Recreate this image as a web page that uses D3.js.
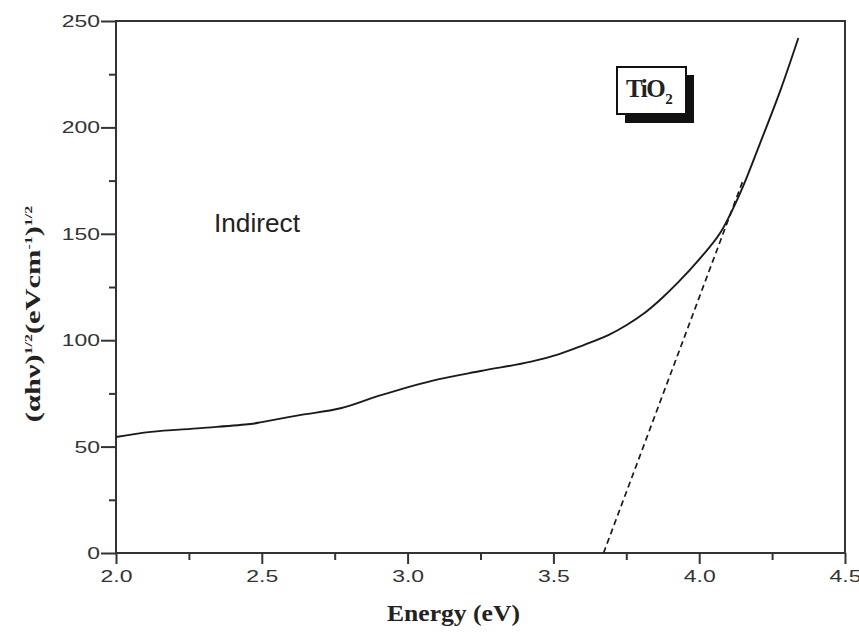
<!DOCTYPE html>
<html>
<head>
<meta charset="utf-8">
<script src="https://cdn.jsdelivr.net/npm/d3@7"></script>
<style>
  body { margin: 0; background: #fff; }
  svg text { fill: #222; }
</style>
</head>
<body>
<script>
// measured curve, energy (eV) vs (ahv)^1/2
var energy = [2.0, 2.12, 2.29, 2.46, 2.5, 2.63, 2.77, 2.9, 3.08, 3.25, 3.42, 3.52, 3.6, 3.69, 3.75, 3.81, 3.87, 3.93, 4.0, 4.07, 4.14, 4.21, 4.28, 4.34];
var signal = [54.5, 56.9, 58.7, 60.6, 61.5, 64.8, 68, 73.8, 80.8, 85.5, 89.8, 93.5, 97.5, 102.5, 107, 112.5, 119.5, 127.5, 138, 150, 169, 193, 218, 242];
// linear fit extrapolated to the axis
var fitEnergy = [3.672, 4.15];
var fitSignal = [0, 175];
var xTicks = [2.0, 2.5, 3.0, 3.5, 4.0, 4.5];
var yTicks = [0, 50, 100, 150, 200, 250];

var width = 859, height = 635;
var mLeft = 116, mRight = 845, mTop = 21, mBottom = 553;

var svg = d3.select("body").append("svg")
    .attr("width", width)
    .attr("height", height);

var x = d3.scaleLinear().domain([2.0, 4.5]).range([mLeft, mRight]);
var y = d3.scaleLinear().domain([0, 250]).range([mBottom, mTop]);

// frame
svg.append("rect")
    .attr("x", mLeft).attr("y", mTop)
    .attr("width", mRight - mLeft).attr("height", mBottom - mTop)
    .style("fill", "none").style("stroke", "#333").style("stroke-width", 2);

// minor ticks
var xMinor = d3.axisBottom(x).tickValues(d3.range(2.25, 4.5, 0.5)).tickSize(7).tickFormat("");
var yMinor = d3.axisLeft(y).tickValues(d3.range(25, 250, 50)).tickSize(7).tickFormat("");
svg.append("g").attr("transform", "translate(0," + mBottom + ")").call(xMinor);
svg.append("g").attr("transform", "translate(" + mLeft + ",0)").call(yMinor);

var xAxis = d3.axisBottom(x).tickValues(xTicks).tickSize(11).tickPadding(6).tickFormat(d3.format(".1f"));
var yAxis = d3.axisLeft(y).tickValues(yTicks).tickSize(15).tickPadding(1).tickFormat(d3.format("d"));
svg.append("g").attr("class", "ax").attr("transform", "translate(0," + mBottom + ")").call(xAxis);
svg.append("g").attr("class", "ax").attr("transform", "translate(" + mLeft + ",0)").call(yAxis);

svg.selectAll(".domain").remove();
svg.selectAll(".tick line").style("stroke", "#333").style("stroke-width", 2);
svg.selectAll(".ax text")
    .style("font-family", "Liberation Sans, Arial, sans-serif")
    .style("font-size", "17px")
    .style("fill", "#333")
    .each(function () {
        // the reference type is wide, stretch each label
        var w = this.getComputedTextLength();
        d3.select(this).attr("textLength", w * 1.35).attr("lengthAdjust", "spacingAndGlyphs");
    });

// curve
var line = d3.line().x(function (d) { return x(d[0]); }).y(function (d) { return y(d[1]); })
    .curve(d3.curveCatmullRom);
svg.append("path")
    .datum(d3.zip(energy, signal))
    .attr("d", line)
    .style("fill", "none").style("stroke", "#1a1a1a").style("stroke-width", 1.9);

svg.append("path")
    .datum(d3.zip(fitEnergy, fitSignal))
    .attr("d", d3.line().x(function (d) { return x(d[0]); }).y(function (d) { return y(d[1]); }))
    .style("fill", "none").style("stroke", "#1a1a1a").style("stroke-width", 1.7)
    .style("stroke-dasharray", "6,4");

// labels
svg.append("text")
    .attr("x", 214).attr("y", 232)
    .attr("textLength", 86).attr("lengthAdjust", "spacingAndGlyphs")
    .style("font-family", "Liberation Sans, Arial, sans-serif")
    .style("font-size", "25px")
    .text("Indirect");

// TiO2 box with shadow
svg.append("rect").attr("x", 625).attr("y", 75).attr("width", 69).attr("height", 48).style("fill", "#111");
svg.append("rect").attr("x", 617).attr("y", 67).attr("width", 69).attr("height", 47)
    .style("fill", "#fff").style("stroke", "#111").style("stroke-width", 2);
var tio = svg.append("text")
    .attr("x", 626).attr("y", 97)
    .style("font-family", "Liberation Serif, Times New Roman, serif")
    .style("font-size", "25px").style("font-weight", "bold").style("letter-spacing", "-1.5px");
tio.append("tspan").text("TiO");
tio.append("tspan").attr("dx", 1).attr("dy", 7).style("font-size", "15px").text("2");

svg.append("text")
    .attr("x", 387).attr("y", 621)
    .attr("textLength", 133).attr("lengthAdjust", "spacingAndGlyphs")
    .style("font-family", "Liberation Serif, Times New Roman, serif")
    .style("font-size", "23px").style("font-weight", "bold")
    .text("Energy (eV)");

var yl = svg.append("text")
    .attr("transform", "translate(40,314) rotate(-90) scale(1.45,1)")
    .attr("text-anchor", "middle")
    .style("font-family", "Liberation Serif, Times New Roman, serif")
    .style("font-size", "21px").style("font-weight", "bold");
yl.append("tspan").text("(\u03b1h\u03bd)");
yl.append("tspan").attr("dy", -8).style("font-size", "11px").text("1/2");
yl.append("tspan").attr("dy", 8).text("(eVcm");
yl.append("tspan").attr("dy", -8).style("font-size", "11px").text("-1");
yl.append("tspan").attr("dy", 8).text(")");
yl.append("tspan").attr("dy", -8).style("font-size", "11px").text("1/2");
</script>
</body>
</html>
